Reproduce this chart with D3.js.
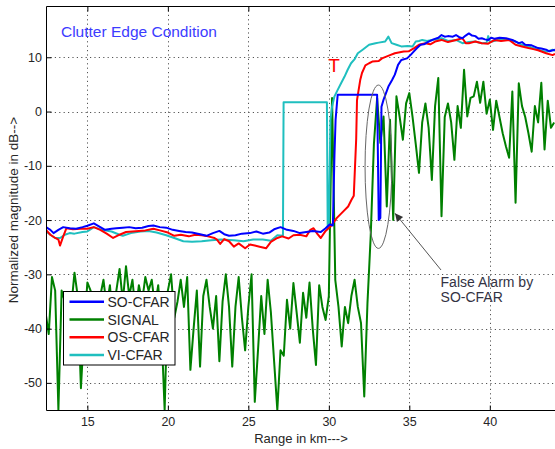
<!DOCTYPE html>
<html>
<head>
<meta charset="utf-8">
<script src="https://cdn.jsdelivr.net/npm/d3@7"></script>
<style>
  body { margin: 0; background: #fff; }
  svg text { font-family: "Liberation Sans", Arial, Helvetica, sans-serif; }
</style>
</head>
<body>
<div class="container"></div>
<script>
// tick values
const xTicks = [15, 20, 25, 30, 35, 40]
const yTicks = [-50, -40, -30, -20, -10, 0, 10]

// SO-CFAR threshold, [range km, dB]
const soCfar = [[12.43,-21.3],[12.7,-21.8],[12.9,-22.4],[13.2,-21.8],[13.5,-21.3],[13.9,-21.5],[14.3,-21.6],[14.7,-21.3],[15.0,-21.05],[15.4,-20.6],[15.8,-21.3],[16.1,-21.8],[16.5,-21.6],[16.8,-21.5],[17.2,-21.4],[17.6,-21.3],[18.0,-21.5],[18.4,-21.4],[18.8,-21.1],[19.1,-21.0],[19.5,-21.3],[19.9,-21.4],[20.3,-21.8],[20.7,-22.0],[21.1,-22.2],[21.5,-22.3],[22.0,-22.6],[22.4,-22.9],[22.8,-22.4],[23.2,-22.0],[23.5,-22.6],[23.8,-22.9],[24.2,-22.8],[24.6,-22.5],[25.1,-22.4],[25.5,-22.1],[25.9,-22.5],[26.3,-22.3],[26.6,-21.7],[27.0,-21.3],[27.4,-21.8],[27.8,-22.0],[28.2,-22.4],[28.6,-22.2],[29.0,-22.0],[29.5,-22.2],[29.8,-21.5],[30.05,-20.8],[30.25,-21.0],[30.35,-8],[30.42,-1.5],[30.55,3.1],[33.0,3.1],[33.1,-20.0],[33.2,-19.6],[33.27,0.9],[33.4,2.2],[33.7,4.6],[33.93,5.8],[34.1,6.8],[34.3,8.6],[34.5,9.5],[34.86,9.8],[35.07,10.4],[35.27,11.05],[35.48,11.7],[35.7,12.3],[35.9,12.4],[36.2,12.9],[36.5,13.3],[36.8,13.6],[37.0,14.1],[37.2,13.8],[37.4,13.9],[37.7,13.8],[37.9,14.1],[38.1,13.7],[38.3,13.5],[38.5,14.0],[38.7,14.4],[38.9,14.0],[39.1,13.9],[39.3,13.4],[39.5,13.5],[39.7,13.3],[39.9,13.2],[40.1,13.6],[40.3,13.4],[40.6,13.6],[41.0,13.5],[41.4,13.2],[41.8,12.6],[42.0,12.8],[42.2,12.3],[42.6,12.2],[43.0,11.7],[43.2,11.6],[43.5,11.4],[43.7,11.1],[44.05,11.4]]

// OS-CFAR threshold
const osCfar = [[12.43,-21.8],[12.7,-22.7],[13.0,-23.3],[13.2,-23.6],[13.3,-24.7],[13.5,-23.0],[13.7,-21.5],[14.1,-21.7],[14.6,-21.6],[15.0,-21.6],[15.4,-21.3],[15.8,-21.8],[16.2,-22.5],[16.6,-23.3],[17.0,-22.7],[17.4,-22.2],[17.8,-22.1],[18.2,-22.0],[18.6,-21.9],[19.1,-21.6],[19.5,-21.9],[20.0,-22.3],[20.4,-22.9],[20.8,-22.7],[21.3,-23.0],[21.7,-22.7],[22.1,-22.8],[22.5,-23.0],[22.9,-23.3],[23.05,-23.6],[23.25,-24.4],[23.5,-23.5],[23.8,-23.9],[24.1,-24.9],[24.4,-24.3],[24.8,-25.2],[25.1,-24.5],[25.4,-24.7],[25.7,-24.9],[26.1,-25.2],[26.4,-24.0],[26.8,-23.3],[27.1,-23.0],[27.5,-23.4],[27.8,-22.8],[28.2,-22.7],[28.6,-23.0],[28.85,-21.8],[29.05,-21.5],[29.3,-22.6],[29.5,-23.3],[29.8,-22.0],[30.1,-21.2],[30.5,-19.6],[30.9,-18.4],[31.2,-17.5],[31.4,-16.3],[31.55,-15.5],[31.7,-5],[31.75,2.1],[31.95,5.8],[32.06,7.1],[32.27,8.5],[32.5,8.9],[32.7,9.2],[33.1,9.3],[33.3,9.8],[33.8,10.4],[34.1,10.75],[34.65,11.05],[34.96,11.1],[35.3,11.7],[35.6,12.3],[36.0,12.6],[36.3,12.4],[36.6,12.9],[37.0,13.2],[37.4,12.8],[37.9,13.2],[38.3,13.5],[38.5,12.6],[38.7,12.6],[39.1,12.9],[39.5,12.6],[39.9,12.5],[40.3,13.2],[40.7,13.0],[41.2,13.2],[41.6,12.3],[42.0,12.0],[42.4,11.7],[42.7,11.5],[43.0,11.3],[43.5,10.75],[43.9,10.4],[44.05,10.6]]

// VI-CFAR threshold
const viCfar = [[12.43,-22.1],[12.7,-22.7],[13.0,-23.3],[13.3,-23.3],[13.6,-22.7],[13.9,-22.4],[14.2,-22.5],[14.7,-22.2],[15.0,-22.1],[15.4,-21.3],[15.9,-21.8],[16.5,-22.1],[17.0,-22.7],[17.2,-22.9],[17.7,-22.4],[18.3,-22.1],[18.8,-22.0],[19.3,-22.3],[19.9,-22.8],[20.4,-23.3],[20.96,-23.9],[21.5,-24.0],[22.1,-23.9],[22.7,-23.7],[23.3,-23.6],[24.1,-23.7],[24.7,-23.9],[25.3,-23.6],[25.9,-23.6],[26.4,-23.8],[26.8,-22.8],[27.15,-22.9],[27.19,1.7],[29.88,1.7],[29.93,-21.4],[30.0,-21.0],[30.1,-1.5],[30.2,0.9],[30.35,2.8],[30.55,4.0],[30.76,5.2],[30.97,6.4],[31.17,7.7],[31.38,8.9],[31.59,9.6],[31.8,10.75],[32.1,11.4],[32.5,12.3],[32.9,12.6],[33.1,12.7],[33.5,12.9],[33.7,13.8],[33.9,12.6],[34.2,12.3],[34.5,12.0],[34.9,12.1],[35.2,12.0],[35.4,12.9],[35.6,13.0],[35.8,13.2],[36.1,13.0],[36.4,13.2],[36.7,13.3],[37.0,13.5],[37.4,13.0],[37.9,13.2],[38.3,12.6],[38.7,12.8],[39.1,12.9],[39.5,12.6],[39.8,12.7],[39.9,13.9],[40.0,12.8],[40.5,13.2],[41.2,13.2],[41.6,12.9],[42.0,12.3],[42.4,12.0],[43.0,11.4],[43.5,11.0],[43.9,11.4],[44.05,11.2]]

// received signal, one sample every 0.2 km from 12.4 km
const signalStart = 12.4
const signalStep = 0.2
const signal = [
  -37,-41,-30.5,-33,-55,-33,-35,-44,-36,-29.7,
  -34,-51,-40,-31.5,-33,-38,-42,-34,-31,-36,
  -32,-39,-33,-29,-35,-28.5,-34,-31,-37,-32,
  -35,-30.5,-33,-31,-36,-32,-40,-55,-33,-30,
  -38,-35,-31,-36,-30.5,-47.6,-40,-33,-47,-34,
  -31,-36,-40,-34,-46,-35,-30,-36,-47,-36,
  -30.5,-38,-44,-36,-30,-53.5,-44,-34,-41,-31,
  -37,-46,-55,-44,-45,-34.7,-40,-31.6,-37,-42.6,
  -33.4,-38,-31.5,-40,-46.7,-32,-36,-38.4,-34,2.5,
  -31,-36,-43.3,-36,-39,-34,-31,-36,-39,-52.5,
  -35.3,-23,-6,2.5,-5.8,-0.9,-17.5,-1.5,-20,2.8,
  -1,-5.2,1.5,3.4,-1,-6,-11.3,-2,1.5,-3,
  -12.6,1,6.2,-19.3,-1,1.5,-2,-8.9,1,-3,
  7.7,-0.9,2.5,2.8,5.5,1.6,5.5,-0.4,2.2,-3.4,
  2,-1,-4,-6.4,-8.5,3.7,-16.8,5.2,1,-1,
  -4,-7.4,1,-2,5.3,-7,2,-3,-2
]

const legendNames = ['SO-CFAR', 'SIGNAL', 'OS-CFAR', 'VI-CFAR']
const colors = ['#0000ff', '#008000', '#ff0000', '#1fbfbf']

const W = 555, H = 449
const margin = { top: 6, left: 46, bottom: 39, right: 0 }
const plotBottom = H - margin.bottom

const svg = d3.select('.container').append('svg')
  .attr('width', W).attr('height', H)

const x = d3.scaleLinear().domain([12.43, 44.05]).range([margin.left, W - margin.right])
const y = d3.scaleLinear().domain([-55, 19.45]).range([plotBottom, margin.top])

svg.append('defs').append('clipPath').attr('id', 'clip')
  .append('rect')
  .attr('x', margin.left).attr('y', margin.top)
  .attr('width', W - margin.left).attr('height', plotBottom - margin.top)

// grid
const grid = svg.append('g').attr('class', 'grid')
  .attr('stroke', '#555').attr('stroke-width', 1).attr('stroke-dasharray', '1.2,3.2')
grid.selectAll('.vg').data(xTicks).enter().append('line')
  .attr('x1', d => Math.round(x(d)) + 0.5).attr('x2', d => Math.round(x(d)) + 0.5)
  .attr('y1', margin.top).attr('y2', plotBottom)
grid.selectAll('.hg').data(yTicks).enter().append('line')
  .attr('y1', d => Math.round(y(d)) + 0.5).attr('y2', d => Math.round(y(d)) + 0.5)
  .attr('x1', margin.left).attr('x2', W)

// lines
const line = d3.line().x(d => x(d[0])).y(d => y(d[1]))
const plot = svg.append('g').attr('clip-path', 'url(#clip)')
  .attr('fill', 'none').attr('stroke-linejoin', 'round')

const signalPts = signal.map((v, i) => [signalStart + i * signalStep, v])
plot.append('path').datum(signalPts).attr('d', line)
  .attr('stroke', colors[1]).attr('stroke-width', 2)
plot.append('path').datum(viCfar).attr('d', line)
  .attr('stroke', colors[3]).attr('stroke-width', 2)
plot.append('path').datum(osCfar).attr('d', line)
  .attr('stroke', colors[2]).attr('stroke-width', 2)
plot.append('path').datum(soCfar).attr('d', line)
  .attr('stroke', colors[0]).attr('stroke-width', 2)

// axes, ticks inward
const xAxis = d3.axisBottom(x).tickValues(xTicks).tickSizeInner(-5).tickSizeOuter(0).tickPadding(7)
const yAxis = d3.axisLeft(y).tickValues(yTicks).tickSizeInner(-5).tickSizeOuter(0).tickPadding(4.5)
  .tickFormat(d => String(d))

const gx = svg.append('g').attr('transform', `translate(0,${plotBottom + 0.5})`).call(xAxis)
const gy = svg.append('g').attr('transform', `translate(${margin.left + 0.5},0)`).call(yAxis)
svg.append('g').attr('transform', `translate(0,${margin.top + 0.5})`)
  .call(d3.axisTop(x).tickValues(xTicks).tickSizeInner(-5).tickSizeOuter(0).tickFormat(''))
  .select('.domain').remove()
;[gx, gy].forEach(g => {
  g.select('.domain').remove()
  g.selectAll('text').attr('font-size', 12.5).attr('fill', '#262626')
    .style('font-family', '"Liberation Sans", Arial, sans-serif')
})

// frame
svg.append('path')
  .attr('d', `M${W + 1},${margin.top + 0.5}H${margin.left + 0.5}V${plotBottom + 0.5}H${W + 1}`)
  .attr('fill', 'none').attr('stroke', '#000').attr('stroke-width', 1)

// axis labels
svg.append('text')
  .attr('x', 301).attr('y', 443)
  .attr('text-anchor', 'middle').attr('font-size', 13).attr('fill', '#262626')
  .text('Range in km--->')
svg.append('text')
  .attr('transform', 'translate(18,210) rotate(-90)')
  .attr('text-anchor', 'middle').attr('font-size', 13.5).attr('fill', '#262626')
  .text('Normalized magnitude in dB-->')

// title inside
svg.append('text')
  .attr('x', x(13.36)).attr('y', y(13.7))
  .attr('font-size', 15.5).attr('fill', '#3c3cff')
  .text('Clutter Edge Condition')

// red T
svg.append('text')
  .attr('x', x(30.33)).attr('y', y(7.3))
  .attr('text-anchor', 'middle').attr('font-size', 19).attr('fill', '#ff0000')
  .text('T')

// false alarm annotation
svg.append('ellipse')
  .attr('cx', x(33.08)).attr('cy', y(-10.17))
  .attr('rx', x(33.08 + 0.83) - x(33.08)).attr('ry', y(-10.17 - 15.05) - y(-10.17))
  .attr('fill', 'none').attr('stroke', '#666').attr('stroke-width', 1)

svg.append('defs').append('marker')
  .attr('id', 'arrow').attr('viewBox', '0 0 10 10')
  .attr('refX', 10).attr('refY', 5)
  .attr('markerWidth', 10).attr('markerHeight', 8)
  .attr('markerUnits', 'userSpaceOnUse')
  .attr('orient', 'auto')
  .append('path').attr('d', 'M0,0L10,5L0,10Z').attr('fill', '#333')
svg.append('line')
  .attr('x1', x(36.97)).attr('y1', y(-29.2))
  .attr('x2', x(34.11)).attr('y2', y(-18.76))
  .attr('stroke', '#555').attr('stroke-width', 1)
  .attr('marker-end', 'url(#arrow)')

const note = svg.append('text')
  .attr('font-size', 14).attr('fill', '#333344')
note.append('tspan').attr('x', x(36.94)).attr('y', y(-32.3)).text('False Alarm by')
note.append('tspan').attr('x', x(36.94)).attr('y', y(-35.1)).text('SO-CFAR')

// legend
const lg = svg.append('g').attr('id', 'legend')
lg.append('rect')
  .attr('x', 63.5).attr('y', 291.5).attr('width', 111.5).attr('height', 73.5)
  .attr('fill', '#fff').attr('stroke', '#000').attr('stroke-width', 1)
const item = lg.selectAll('.legend-label').data(legendNames).enter().append('g')
  .attr('class', 'legend-label')
  .attr('transform', (d, i) => `translate(0,${301.7 + i * 17.8})`)
item.append('line')
  .attr('x1', 69.5).attr('x2', 104).attr('y1', 0).attr('y2', 0)
  .attr('stroke', (d, i) => colors[i]).attr('stroke-width', 2.5)
item.append('text')
  .attr('x', 107.5).attr('y', 0).attr('dy', '.36em')
  .attr('font-size', 14).attr('fill', '#262626')
  .text(d => d)
</script>
</body>
</html>
